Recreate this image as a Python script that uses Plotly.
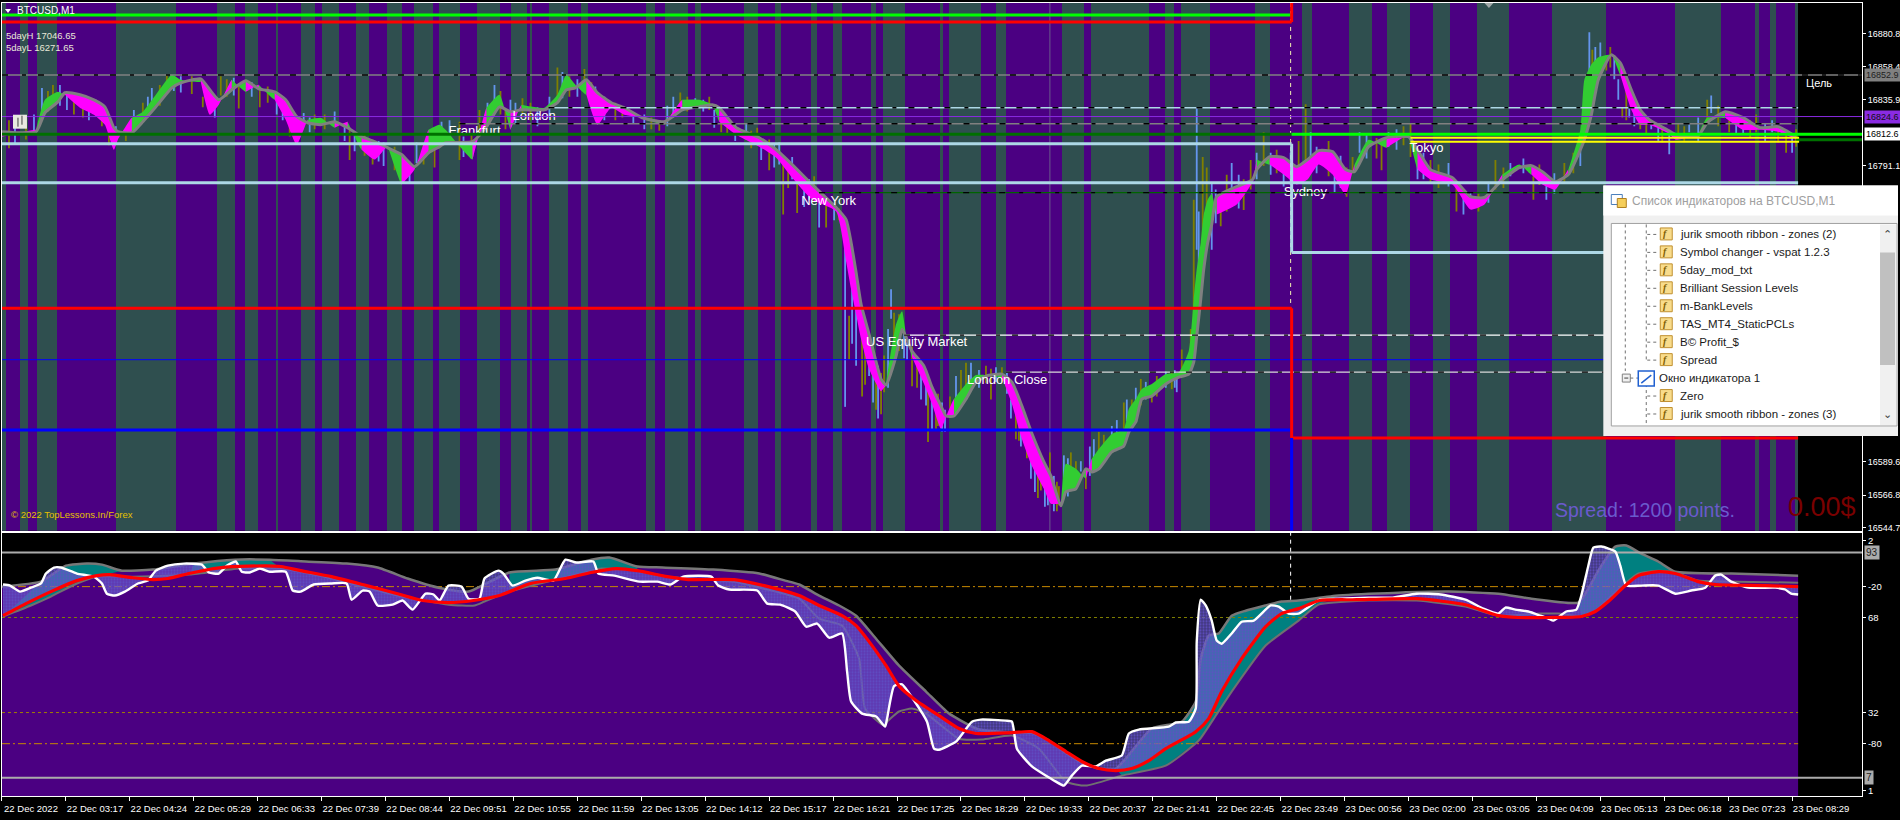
import plotly.graph_objects as go

# ---------- time axis (bar numbers on the M1 chart) ----------
tick_bars = [2, 66, 130, 194, 258, 322, 386, 450, 514, 578, 642, 706, 770, 834, 898, 962, 1026, 1090, 1154, 1218, 1282,
             1346, 1410, 1474, 1538, 1602, 1666, 1730, 1794]
tick_labels = ["22 Dec 2022", "22 Dec 03:17", "22 Dec 04:24", "22 Dec 05:29", "22 Dec 06:33", "22 Dec 07:39",
               "22 Dec 08:44", "22 Dec 09:51", "22 Dec 10:55", "22 Dec 11:59", "22 Dec 13:05", "22 Dec 14:12",
               "22 Dec 15:17", "22 Dec 16:21", "22 Dec 17:25", "22 Dec 18:29", "22 Dec 19:33", "22 Dec 20:37",
               "22 Dec 21:41", "22 Dec 22:45", "22 Dec 23:49", "23 Dec 00:56", "23 Dec 02:00", "23 Dec 03:05",
               "23 Dec 04:09", "23 Dec 05:13", "23 Dec 06:18", "23 Dec 07:23", "23 Dec 08:29"]
first_bar, last_bar, axis_end = 2, 1800, 1864

# ---------- session bands ----------
band_start = [2, 20, 37, 116, 217, 245, 276, 301, 322, 356, 387, 414, 439, 477, 512, 531, 550, 582, 647, 666, 696, 745,
              776, 812, 834, 872, 884, 941, 950, 997, 1063, 1092, 1166, 1182, 1256, 1303, 1350, 1388, 1435, 1479, 1554,
              1677, 1757, 1772, 1797]
band_end = [6, 28, 57, 176, 235, 258, 278, 315, 339, 369, 402, 433, 460, 501, 528, 533, 569, 589, 656, 689, 702, 759,
            782, 818, 843, 877, 906, 944, 982, 1007, 1085, 1150, 1175, 1211, 1271, 1313, 1373, 1411, 1452, 1511, 1608,
            1723, 1761, 1778, 1800]

# ---------- price panel ----------
price_low, price_high = 16542.7, 16901.9
price_ticks = [16880.8, 16858.4, 16835.9, 16791.1, 16589.6, 16566.8, 16544.7]

rib_x = [2, 36, 45, 58, 65, 80, 94, 105, 114, 118, 132, 143, 156, 172, 181, 201, 210, 219, 232, 246, 259, 275, 286, 297,
         308, 321, 335, 348, 362, 375, 388, 402, 415, 429, 440, 446, 473, 487, 500, 511, 522, 545, 558, 567, 576, 587,
         598, 612, 625, 643, 665, 683, 700, 713, 720, 737, 760, 777, 793, 813, 837, 847, 852, 857, 862, 870, 882, 887,
         897, 903, 907, 913, 925, 933, 942, 947, 955, 967, 977, 987, 1003, 1013, 1023, 1032, 1045, 1052, 1062, 1067,
         1077, 1087, 1093, 1100, 1113, 1125, 1130, 1137, 1143, 1153, 1167, 1180, 1190, 1195, 1198, 1202, 1205, 1209,
         1213, 1218, 1238, 1254, 1258, 1271, 1285, 1298, 1309, 1320, 1334, 1347, 1356, 1370, 1388, 1410, 1419, 1432,
         1454, 1472, 1486, 1504, 1521, 1533, 1544, 1557, 1570, 1582, 1586, 1593, 1600, 1613, 1622, 1633, 1642, 1651,
         1669, 1678, 1700, 1709, 1727, 1745, 1762, 1780, 1798]
rib_slow = [16814.3, 16814.3, 16827.2, 16834.6, 16840.8, 16839.4, 16836, 16831.2, 16817, 16814.3, 16813.6, 16821.1,
            16831.2, 16844.1, 16847.5, 16850.3, 16842.8, 16836, 16842.8, 16848.9, 16843.5, 16841.4, 16836, 16824.5,
            16820.4, 16819, 16821.1, 16817, 16810.9, 16807.5, 16803.4, 16798.7, 16790.5, 16800, 16804.1, 16806.8,
            16807.5, 16817.7, 16831.2, 16827.9, 16829.2, 16829.2, 16834, 16842.8, 16844.1, 16849.6, 16840.8, 16834,
            16830.6, 16823.8, 16821.1, 16829.2, 16831.2, 16832.6, 16830.6, 16817, 16810.2, 16802, 16791.9, 16778.3,
            16762.7, 16754.5, 16738.9, 16718.5, 16696.8, 16676.4, 16645.9, 16641.8, 16661.5, 16679.8, 16674.4, 16664.9,
            16654.7, 16640.4, 16627.5, 16620.8, 16620.8, 16632.3, 16643.8, 16647.9, 16649.3, 16643.8, 16627.5, 16610.6,
            16589.5, 16580, 16559.6, 16569.2, 16571.2, 16584.8, 16582.7, 16584.8, 16596.3, 16600.4, 16609.9, 16616.7,
            16632.3, 16634.3, 16642.5, 16647.2, 16649.3, 16657.4, 16675.1, 16700.2, 16720.6, 16738.9, 16751.1, 16770.1,
            16776.9, 16781.7, 16788.5, 16797.3, 16796.6, 16790.5, 16795.3, 16801.4, 16800.7, 16788.5, 16787.1, 16804.1,
            16810.2, 16810.9, 16802, 16788.5, 16783, 16770.1, 16769.5, 16781.7, 16789.8, 16791.2, 16787.1, 16780.3,
            16785.1, 16802, 16808.8, 16825.8, 16849.6, 16866.6, 16861.1, 16842.8, 16829.2, 16822.4, 16815.6, 16812.2,
            16811.6, 16820.4, 16827.9, 16823.8, 16817, 16817.7, 16810.9]
rib_fast = [16810.9, 16815.6, 16836, 16841.4, 16839.4, 16830.6, 16825.8, 16819, 16802, 16808.8, 16823.8, 16827.9,
            16839.4, 16853, 16849.6, 16848.2, 16825.8, 16832.6, 16849.6, 16841.4, 16846.2, 16836, 16822.4, 16805.4,
            16822.4, 16823.8, 16817, 16821.1, 16802, 16795.3, 16804.8, 16778.3, 16788.5, 16815.6, 16819, 16815.6,
            16795.3, 16830.6, 16839.4, 16815.6, 16832.6, 16830.6, 16839.4, 16853, 16846.2, 16839.4, 16819, 16830.6,
            16825.8, 16823.8, 16819, 16836, 16836, 16832.6, 16821.1, 16812.2, 16804.1, 16796.6, 16783, 16768.1, 16760,
            16726, 16707, 16690, 16673, 16652.7, 16637.7, 16641.8, 16683.2, 16692.1, 16676.4, 16660.8, 16642.5, 16628.9,
            16611.9, 16620.1, 16632.3, 16642.5, 16648.6, 16648.6, 16647.2, 16628.9, 16605.1, 16588.2, 16571.2, 16561,
            16561, 16588.2, 16584.8, 16578, 16591.6, 16598.3, 16608.5, 16611.9, 16625.5, 16632.3, 16639.1, 16642.5,
            16649.3, 16650.6, 16665, 16700.2, 16720.6, 16738.9, 16757.9, 16768.1, 16772, 16757.9, 16764.7, 16780.3,
            16795.3, 16791.9, 16785.1, 16778.3, 16781.7, 16791.9, 16785.1, 16771.5, 16791.9, 16808.8, 16803.4, 16812.2,
            16788.5, 16781.7, 16778.3, 16761.3, 16764.7, 16785.1, 16791.9, 16785.1, 16778.3, 16774.9, 16788.5, 16815.6,
            16849.6, 16860, 16865, 16866.6, 16853, 16829.2, 16819, 16819, 16813.6, 16808.8, 16812.2, 16823.8, 16823.8,
            16815.6, 16815.6, 16814.3, 16809.5]

wick_x = [9, 42, 53, 67, 83, 96, 109, 134, 143, 152, 167, 181, 203, 210, 221, 234, 239, 246, 260, 283, 290, 304, 315,
          335, 350, 355, 373, 384, 404, 417, 435, 442, 460, 464, 480, 495, 506, 511, 523, 538, 558, 563, 585, 596, 623,
          634, 660, 674, 681, 696, 710, 715, 728, 747, 758, 762, 770, 780, 784, 793, 798, 805, 815, 820, 827, 835, 843,
          846, 850, 857, 863, 870, 877, 879, 885, 892, 895, 908, 913, 927, 929, 933, 939, 946, 951, 957, 967, 972, 992,
          997, 1003, 1012, 1017, 1022, 1028, 1036, 1042, 1046, 1051, 1055, 1060, 1065, 1072, 1082, 1087, 1095, 1100,
          1113, 1125, 1128, 1142, 1147, 1153, 1167, 1173, 1178, 1183, 1188, 1195, 1198, 1204, 1213, 1222, 1233, 1245,
          1258, 1265, 1285, 1307, 1312, 1325, 1336, 1354, 1361, 1383, 1390, 1412, 1419, 1432, 1450, 1458, 1472, 1497,
          1512, 1535, 1548, 1566, 1582, 1586, 1591, 1594, 1602, 1608, 1620, 1624, 1631, 1642, 1653, 1664, 1671, 1680,
          1691, 1709, 1713, 1731, 1745, 1758, 1774, 1780, 1794, 1798]
wick_high = [16822, 16844, 16846, 16841, 16836, 16836, 16814, 16829, 16834, 16844, 16853, 16852, 16838, 16837, 16852,
             16851, 16845, 16848, 16843, 16838, 16827, 16827, 16826, 16828, 16817, 16814, 16809, 16807, 16797, 16807,
             16804, 16821, 16821, 16811, 16829, 16846, 16829, 16836, 16837, 16831, 16858, 16855, 16857, 16845, 16831,
             16827, 16822, 16838, 16841, 16837, 16838, 16829, 16824, 16820, 16817, 16807, 16809, 16807, 16797, 16797,
             16780, 16782, 16784, 16770, 16765, 16763, 16759, 16752, 16689, 16693, 16678, 16666, 16657, 16655, 16662,
             16707, 16691, 16671, 16668, 16648, 16637, 16632, 16636, 16625, 16634, 16648, 16657, 16657, 16653, 16654,
             16654, 16632, 16625, 16619, 16610, 16594, 16592, 16585, 16596, 16580, 16573, 16594, 16596, 16590, 16585,
             16605, 16610, 16614, 16630, 16632, 16646, 16644, 16637, 16651, 16651, 16647, 16666, 16658, 16768, 16831,
             16797, 16780, 16773, 16793, 16782, 16800, 16814, 16793, 16833, 16814, 16802, 16797, 16797, 16814, 16807,
             16814, 16820, 16795, 16795, 16793, 16780, 16773, 16795, 16793, 16784, 16782, 16793, 16811, 16829, 16882,
             16870, 16875, 16865, 16850, 16831, 16831, 16824, 16821, 16816, 16814, 16820, 16820, 16836, 16839, 16822,
             16820, 16826, 16822, 16818, 16811, 16816]
wick_low = [16803, 16826, 16834, 16829, 16824, 16827, 16805, 16814, 16822, 16831, 16843, 16841, 16831, 16831, 16839,
            16839, 16830, 16843, 16831, 16822, 16811, 16820, 16816, 16819, 16795, 16801, 16792, 16791, 16780, 16793,
            16790, 16807, 16795, 16797, 16811, 16829, 16816, 16822, 16827, 16818, 16834, 16837, 16845, 16831, 16824,
            16820, 16815, 16824, 16829, 16831, 16829, 16817, 16812, 16809, 16807, 16795, 16788, 16792, 16758, 16782,
            16759, 16763, 16768, 16749, 16749, 16754, 16754, 16627, 16659, 16655, 16634, 16648, 16625, 16619, 16637,
            16687, 16673, 16659, 16641, 16628, 16603, 16611, 16614, 16610, 16622, 16628, 16639, 16644, 16632, 16644,
            16644, 16619, 16605, 16600, 16592, 16569, 16570, 16559, 16573, 16556, 16560, 16569, 16583, 16583, 16571,
            16587, 16594, 16596, 16610, 16617, 16628, 16632, 16630, 16640, 16639, 16637, 16648, 16648, 16659, 16734,
            16723, 16734, 16750, 16763, 16761, 16782, 16791, 16777, 16791, 16793, 16791, 16773, 16786, 16800, 16788,
            16804, 16797, 16782, 16780, 16777, 16760, 16763, 16775, 16784, 16768, 16768, 16780, 16791, 16811, 16852,
            16850, 16858, 16856, 16836, 16824, 16824, 16816, 16816, 16807, 16799, 16811, 16814, 16820, 16827, 16814,
            16812, 16814, 16814, 16807, 16800, 16804]

wick2_x = [15, 26, 34, 48, 60, 74, 89, 102, 116, 126, 148, 160, 174, 192, 215, 227, 252, 268, 277, 296, 310, 325, 345,
           365, 379, 395, 410, 424, 450, 472, 488, 501, 516, 531, 550, 570, 578, 592, 605, 616, 645, 652, 668, 688, 704,
           722, 736, 752, 775, 789, 810, 840, 853, 866, 874, 882, 889, 900, 905, 918, 922, 937, 943, 962, 980, 987,
           1008, 1020, 1032, 1039, 1049, 1058, 1069, 1077, 1091, 1105, 1118, 1133, 1137, 1158, 1176, 1192, 1200, 1208,
           1217, 1228, 1240, 1252, 1272, 1278, 1292, 1300, 1318, 1330, 1342, 1348, 1368, 1378, 1398, 1405, 1425, 1440,
           1465, 1480, 1490, 1505, 1525, 1541, 1556, 1575, 1597, 1612, 1616, 1628, 1636, 1648, 1660, 1686, 1700, 1720,
           1738, 1752, 1767, 1788]
wick2_high = [16822, 16820, 16826, 16842, 16846, 16840, 16836, 16832, 16818, 16816, 16838, 16846, 16852, 16852, 16836,
              16850, 16848, 16845, 16840, 16826, 16824, 16826, 16820, 16812, 16808, 16804, 16794, 16806, 16822, 16812,
              16834, 16842, 16834, 16834, 16838, 16852, 16850, 16848, 16838, 16834, 16826, 16824, 16832, 16838, 16836,
              16826, 16820, 16815, 16806, 16792, 16782, 16762, 16710, 16680, 16660, 16650, 16680, 16690, 16680, 16660,
              16655, 16635, 16630, 16652, 16652, 16655, 16650, 16625, 16606, 16592, 16585, 16576, 16592, 16590, 16600,
              16608, 16618, 16632, 16640, 16648, 16652, 16680, 16760, 16790, 16775, 16785, 16785, 16795, 16800, 16802,
              16800, 16808, 16804, 16808, 16798, 16790, 16812, 16810, 16816, 16818, 16800, 16792, 16772, 16772, 16780,
              16790, 16796, 16792, 16786, 16800, 16872, 16872, 16866, 16842, 16836, 16824, 16820, 16818, 16824, 16832,
              16826, 16822, 16820, 16814]
wick2_low = [16806, 16809, 16812, 16828, 16832, 16826, 16822, 16818, 16806, 16808, 16824, 16832, 16842, 16840, 16824,
             16838, 16838, 16834, 16826, 16806, 16814, 16816, 16808, 16798, 16794, 16788, 16780, 16792, 16806, 16796,
             16818, 16826, 16820, 16822, 16824, 16838, 16838, 16830, 16822, 16822, 16816, 16816, 16818, 16828, 16828,
             16814, 16808, 16803, 16790, 16776, 16768, 16754, 16670, 16642, 16630, 16622, 16640, 16665, 16660, 16640,
             16632, 16612, 16610, 16632, 16640, 16643, 16636, 16604, 16578, 16565, 16560, 16556, 16566, 16575, 16580,
             16590, 16600, 16612, 16620, 16634, 16640, 16650, 16700, 16745, 16752, 16760, 16762, 16775, 16785, 16786,
             16778, 16780, 16786, 16784, 16776, 16770, 16796, 16796, 16802, 16805, 16782, 16776, 16758, 16760, 16766,
             16776, 16786, 16778, 16772, 16786, 16846, 16858, 16850, 16822, 16818, 16812, 16808, 16808, 16808, 16818,
             16812, 16810, 16808, 16800]

# session labels, over the ribbons and under the level lines
session_x = [449, 513, 802, 867, 968, 1285, 1411]
session_price = [16814.3, 16824.5, 16766.7, 16670.3, 16644.5, 16772.8, 16802.7]
session_text = ["Frankfurt", "London", "New York", "US Equity Market", "London Close", "Sydney", "Tokyo"]

# level lines: price, first bar, last bar
lvl_lime_top = (16893.7, 2, 1293)
lvl_red_top = (16889.0, 2, 1293)
lvl_red_mid = (16694.1, 2, 1293)
lvl_red_low = (16605.8, 1293, 1800)
lvl_blue_low = (16611.2, 2, 1293)
lvl_blue_thin = (16659.1, 2, 1800)
lvl_box_a = (16806.1, 2, 1293)
lvl_box_b = (16779.6, 2, 1800)
lvl_box_c = (16732.1, 1293, 1800)
lvl_green_old = (16812.6, 2, 1293)
lvl_lime_now = (16812.6, 1293, 1864)
lvl_green_low = (16808.8, 1798, 1864)
lvl_yellow_a = (16810.2, 1412, 1801)
lvl_yellow_b = (16807.5, 1412, 1801)
lvl_purple = (16824.6, 2, 1864)
lvl_gray_dash = (16852.9, 2, 1864)
lvl_blue_dash = (16830.6, 549, 1800)
lvl_gray_dash2 = (16819.7, 460, 1800)
lvl_green_dash = (16772.8, 820, 1800)
lvl_white_dash = (16675.8, 905, 1800)
lvl_pale_dash = (16650.6, 1007, 1800)

# ---------- oscillator panel ----------
osc_low, osc_high = 0.0, 100.6
osc_ticks = [97.6, 80.0, 68.2, 31.9, 20.0, 2.1]
osc_tick_text = ["2", "-20", "68", "32", "-80", "1"]

white_x = [3, 10, 20, 31, 41, 46, 54, 61, 77, 94, 102, 107, 115, 125, 138, 148, 156, 168, 184, 202, 209, 219, 227, 236,
           242, 250, 260, 270, 286, 293, 301, 314, 332, 347, 352, 363, 370, 378, 393, 403, 413, 426, 434, 440, 449, 462,
           469, 480, 485, 499, 504, 513, 526, 538, 554, 566, 577, 594, 599, 615, 640, 658, 671, 684, 712, 719, 730, 758,
           768, 781, 796, 807, 818, 830, 843, 848, 852, 863, 877, 886, 888, 895, 903, 915, 928, 935, 940, 957, 973, 982,
           1007, 1013, 1018, 1033, 1057, 1065, 1073, 1083, 1097, 1107, 1123, 1130, 1140, 1170, 1177, 1190, 1197, 1198,
           1202, 1207, 1213, 1218, 1223, 1233, 1243, 1255, 1272, 1280, 1290, 1300, 1321, 1339, 1370, 1394, 1418, 1442,
           1467, 1485, 1500, 1507, 1517, 1530, 1542, 1550, 1555, 1562, 1568, 1578, 1583, 1590, 1595, 1603, 1617, 1622,
           1628, 1643, 1660, 1677, 1693, 1707, 1717, 1723, 1733, 1750, 1777, 1787, 1793, 1800]
white_v = [80.8, 80.4, 78.1, 79.6, 81.2, 85, 87.3, 87.3, 85, 83.8, 81.2, 77.3, 76.6, 78.1, 81.2, 82.3, 86.1, 88, 88.8,
           88.4, 85.4, 85, 88, 89.6, 85.7, 85.4, 86.9, 85.7, 85.7, 78.5, 78.1, 80.8, 81.2, 81.2, 75, 78.5, 78.1, 72.8,
           73.1, 74.7, 71.2, 77.3, 77, 74.7, 80.4, 80, 75.4, 75.4, 83.1, 86.1, 85, 80.4, 82.3, 83.4, 82.3, 90.3, 89.2,
           89.6, 85, 84.2, 81.9, 81.9, 80.8, 83.8, 83.8, 80.4, 78.9, 78.5, 73.5, 73.1, 70.5, 64.7, 65.9, 60.5, 62.1,
           47.5, 36.1, 31.5, 30.4, 26.5, 29.6, 42, 42.7, 36.5, 28.4, 18.1, 17.7, 20.8, 28.4, 29.2, 28.8, 28.4, 18.1,
           11.3, 5.5, 4, 7.8, 11.6, 11.3, 13.5, 15.5, 23.9, 25.4, 26.5, 28.1, 28.4, 33.4, 59, 75, 72.8, 67, 59.4, 58.2,
           62.1, 66.6, 67, 72.8, 72.4, 69.7, 69.7, 75, 75.4, 75.8, 75.8, 77.3, 77, 75, 71.6, 69.7, 72, 71.2, 70.5, 68.9,
           67.8, 67, 68.9, 70.5, 71.2, 76.6, 88, 94.9, 95.3, 93.4, 88, 80.4, 80.4, 80.4, 77.3, 78.5, 79.6, 84.2, 84.6,
           81.9, 79.6, 79.6, 78.9, 77.3, 77]

red_x = [3, 26, 51, 77, 97, 110, 133, 153, 168, 189, 214, 240, 281, 301, 332, 367, 398, 423, 449, 474, 500, 531, 566,
         592, 617, 638, 668, 689, 735, 765, 800, 820, 843, 857, 870, 887, 900, 917, 940, 960, 977, 1013, 1033, 1050,
         1067, 1083, 1100, 1117, 1133, 1150, 1167, 1197, 1210, 1223, 1243, 1267, 1283, 1300, 1321, 1358, 1418, 1467,
         1485, 1500, 1520, 1550, 1583, 1597, 1610, 1627, 1640, 1660, 1677, 1700, 1717, 1767, 1800]
red_v = [68.9, 73.5, 78.1, 82.3, 84.2, 84.6, 83.4, 82.7, 83.1, 85, 86.9, 87.7, 87.7, 86.1, 83.8, 80.4, 77.3, 74.7, 73.9,
         74.7, 76.6, 81.2, 83.1, 85.4, 86.9, 86.1, 83.8, 82.7, 82.7, 80.4, 76.6, 72.8, 68.9, 65.1, 59, 49.8, 42, 36.5,
         30.7, 25.8, 23.9, 24.2, 24.6, 21.2, 17, 13.2, 10.5, 9.7, 10.5, 13.5, 18.1, 24.6, 29.6, 39.9, 52.5, 64.7, 69.7,
         71.6, 74.7, 75, 75.4, 73.1, 70.8, 68.9, 68.2, 68.2, 68.6, 70.5, 74.3, 80.4, 84.2, 85.7, 85, 81.9, 80.8, 80.4,
         80]

upper_x = [2, 41, 66, 87, 102, 122, 153, 194, 235, 270, 306, 347, 378, 408, 439, 469, 510, 556, 592, 610, 638, 663, 714,
           760, 786, 800, 820, 840, 857, 877, 900, 927, 950, 973, 980, 1013, 1033, 1050, 1067, 1083, 1100, 1117, 1127,
           1153, 1183, 1197, 1202, 1210, 1220, 1233, 1247, 1267, 1283, 1300, 1340, 1400, 1450, 1500, 1533, 1580, 1590,
           1600, 1617, 1628, 1643, 1660, 1677, 1733, 1800]
upper_v = [80, 81.9, 88, 88.8, 88.4, 86.1, 86.5, 88.8, 90.3, 90.3, 89.6, 88.8, 87.3, 83.1, 79.6, 78.1, 85.4, 86.5, 90.3,
           91.1, 87.7, 87.3, 86.5, 85, 82.3, 80.8, 76.6, 72.8, 68.9, 60.1, 49.8, 39.9, 31.5, 26.5, 25.4, 24.2, 24.2,
           21.2, 16.6, 12.8, 10.5, 10.5, 14.3, 25.8, 28.4, 36.1, 52.5, 61.3, 62.1, 68.9, 70.8, 72.8, 74.3, 74.7, 76.6,
           77.7, 78.1, 77.3, 75.4, 73.9, 79.2, 86.1, 95.3, 95.7, 92.6, 89.6, 85.7, 85, 84.2]

lower_x = [3, 31, 51, 77, 97, 133, 190, 240, 281, 332, 398, 449, 475, 485, 510, 561, 582, 602, 638, 668, 735, 765, 800,
           820, 843, 860, 866, 885, 888, 900, 913, 927, 960, 983, 1013, 1040, 1067, 1087, 1123, 1167, 1200, 1217, 1233,
           1267, 1300, 1320, 1370, 1418, 1467, 1500, 1542, 1560, 1583, 1597, 1610, 1627, 1640, 1660, 1677, 1700, 1740,
           1800]
lower_v = [68.6, 72.8, 76.2, 81.2, 83.8, 83.8, 84.6, 86.9, 86.9, 83.1, 76.6, 73.1, 72.8, 74.3, 78.1, 83.1, 85, 86.9,
           86.1, 83.8, 81.9, 79.2, 75.4, 67.8, 65.1, 52.5, 33.4, 26.9, 28.4, 32.3, 33.4, 31.5, 21.9, 21.6, 23.1, 18.1,
           5.5, 4, 7.8, 11.6, 21.2, 30.7, 39.9, 57.5, 67, 73.1, 74.7, 74.7, 72.4, 68.9, 69.7, 69.7, 68.6, 70.8, 75.4,
           81.2, 85, 86.1, 85.4, 82.3, 81.9, 81.5]

teal_start = [3, 190, 490, 1115, 1580]
teal_end = [125, 290, 640, 1340, 1680]

osc_gray_hi, osc_gray_lo = 93.0, 7.0
osc_dash_a, osc_dash_b, osc_dash_c, osc_dash_d = 80.0, 68.2, 31.9, 20.0

# ---------- dialog text ----------
dialog_title = "Список индикаторов на BTCUSD,M1"
dialog_items = ["jurik smooth ribbon - zones (2)", "Symbol changer - vspat 1.2.3", "5day_mod_txt",
                "Brilliant Session Levels", "m-BankLevels", "TAS_MT4_StaticPCLs", "B© Profit_$", "Spread",
                "Окно индикатора 1", "Zero", "jurik smooth ribbon - zones (3)"]

# ---------- colours ----------
PURPLE, SLATE, BLACK = "#4B0082", "#2F4F4F", "#000000"
W, H = 1900, 820
FONT = "Liberation Sans"


def X(px):
    return px / W


def Y(py):
    return 1 - py / H


fig = go.Figure()


def bars(xa, ya, starts, ends, color, base, top):
    fig.add_trace(go.Bar(x=[(s + e) / 2 for s, e in zip(starts, ends)],
                         width=[e - s for s, e in zip(starts, ends)],
                         y=[top - base] * len(starts), base=[base] * len(starts),
                         marker=dict(color=color, line=dict(width=0)),
                         xaxis=xa, yaxis=ya, hoverinfo="skip"))


def level(lvl, color, width, dash="solid"):
    fig.add_trace(go.Scatter(x=[lvl[1], lvl[2]], y=[lvl[0], lvl[0]], mode="lines",
                             line=dict(color=color, width=width, dash=dash), xaxis="x", yaxis="y", hoverinfo="skip"))


def vline(x, y0, y1, color, width, dash="solid", ya="y", xa="x"):
    fig.add_trace(go.Scatter(x=[x, x], y=[y0, y1], mode="lines",
                             line=dict(color=color, width=width, dash=dash), xaxis=xa, yaxis=ya, hoverinfo="skip"))


# ---- price panel marks
bars("x", "y", [first_bar], [last_bar], PURPLE, price_low, price_high)
bars("x", "y", band_start, band_end, SLATE, price_low, price_high)
vline(1051, price_low, price_high, "#6A5A8A", 1)

for xs_, hs_, ls_, first in ((wick_x, wick_high, wick_low, 0), (wick2_x, wick2_high, wick2_low, 1)):
    for k, color in enumerate(["#808000", "#6495ED"]):
        wx, wy = [], []
        for x, hi, lo in list(zip(xs_, hs_, ls_))[(k + first) % 2::2]:
            wx += [x, x, None]
            wy += [lo, hi, None]
        fig.add_trace(go.Scatter(x=wx, y=wy, mode="lines", line=dict(color=color, width=1.8), xaxis="x", yaxis="y",
                                 hoverinfo="skip"))

# ribbon fills: colour follows the sign of fast minus slow
i = 0
n = len(rib_x)
while i < n - 1:
    up = rib_fast[i] >= rib_slow[i]
    j = i
    while j + 1 < n - 1 and (rib_fast[j + 1] >= rib_slow[j + 1]) == up:
        j += 1
    xs = rib_x[i:j + 2]
    fig.add_trace(go.Scatter(x=xs + xs[::-1], y=rib_fast[i:j + 2] + rib_slow[i:j + 2][::-1], mode="lines",
                             fill="toself", fillcolor="#32CD32" if up else "#FF00FF",
                             line=dict(width=0, shape="spline", smoothing=0.5),
                             xaxis="x", yaxis="y", hoverinfo="skip"))
    i = j + 1
fig.add_trace(go.Scatter(x=rib_x, y=rib_slow, mode="lines", line=dict(color="#808080", width=3, shape="spline", smoothing=0.5),
                         xaxis="x", yaxis="y", hoverinfo="skip"))

fig.add_trace(go.Scatter(x=session_x, y=session_price, text=session_text, mode="text", textposition="middle right",
                         textfont=dict(family=FONT, size=13, color="#FFFFFF"), xaxis="x", yaxis="y", hoverinfo="skip",
                         cliponaxis=False))

vline(1292, price_high, lvl_red_mid[0], "#F0F0B0", 1, "4px,4px")
level(lvl_purple, "#8A2BE2", 1)
for lvl, c in [(lvl_gray_dash, "#808080"), (lvl_blue_dash, "#ADD8E6"), (lvl_gray_dash2, "#808080"),
               (lvl_green_dash, "#006400"), (lvl_white_dash, "#FFFFFF"), (lvl_pale_dash, "#D8D8D8")]:
    level(lvl, c, 1.3)
    level(lvl, "#000000", 1.3, "6px,14px,4px,12px")
level(lvl_blue_thin, "#0000FF", 1)
level(lvl_green_old, "#007000", 3)
level(lvl_green_low, "#007000", 3)
level(lvl_lime_now, "#00FF00", 3)
level(lvl_yellow_a, "#FFFF00", 2)
level(lvl_yellow_b, "#FFFF00", 2)
level(lvl_box_a, "#ADD8E6", 3)
level(lvl_box_b, "#ADD8E6", 3)
level(lvl_box_c, "#ADD8E6", 3)
vline(1293, lvl_box_a[0], lvl_box_c[0], "#ADD8E6", 3)
level(lvl_lime_top, "#00FF00", 3)
level(lvl_red_top, "#FF0000", 3)
level(lvl_red_mid, "#FF0000", 3)
level(lvl_red_low, "#FF0000", 3)
level(lvl_blue_low, "#0000FF", 3)
vline(1293, price_high, lvl_red_top[0], "#FF0000", 3)
vline(1293, lvl_red_mid[0], lvl_red_low[0], "#FF0000", 3)
vline(1293, lvl_red_low[0], price_low, "#0000FF", 3)

# ---- oscillator panel marks
fig.add_trace(go.Scatter(x=[first_bar] + upper_x + [last_bar], y=[osc_low] + upper_v + [osc_low], mode="lines",
                         fill="toself", fillcolor=PURPLE, line=dict(width=0), xaxis="x2", yaxis="y2", hoverinfo="skip"))
for s, e in zip(teal_start, teal_end):
    ux = [a for a in upper_x if s <= a <= e]
    uv = [b for a, b in zip(upper_x, upper_v) if s <= a <= e]
    lx = [a for a in lower_x if s <= a <= e]
    lv = [b for a, b in zip(lower_x, lower_v) if s <= a <= e]
    fig.add_trace(go.Scatter(x=ux + lx[::-1], y=uv + lv[::-1], mode="lines", fill="toself", fillcolor="#008080",
                             line=dict(width=0), xaxis="x2", yaxis="y2", hoverinfo="skip"))
for d, dash, col in [(osc_dash_a, "8px,3px,2px,3px", "#C88A00"), (osc_dash_b, "3px,3px", "#808000"),
                     (osc_dash_c, "3px,3px", "#A08000"), (osc_dash_d, "8px,3px,2px,3px", "#C88A00")]:
    fig.add_trace(go.Scatter(x=[first_bar, last_bar], y=[d, d], mode="lines", line=dict(color=col, width=1, dash=dash),
                             xaxis="x2", yaxis="y2", hoverinfo="skip"))
fig.add_trace(go.Scatter(x=lower_x, y=lower_v, mode="lines", line=dict(color="#707070", width=2, shape="spline", smoothing=0.5),
                         xaxis="x2", yaxis="y2", hoverinfo="skip"))
fig.add_trace(go.Scatter(x=upper_x, y=upper_v, mode="lines", line=dict(color="#787878", width=2.5, shape="spline", smoothing=0.5),
                         xaxis="x2", yaxis="y2", hoverinfo="skip"))
fig.add_trace(go.Scatter(x=white_x + red_x[::-1], y=white_v + red_v[::-1], mode="lines", fill="toself",
                         fillcolor="rgba(106,90,205,0.8)", line=dict(width=0),
                         fillpattern=dict(shape=".", size=3, solidity=0.4, fgcolor="#5F4FC4",
                                          bgcolor="rgba(106,90,205,0.62)", fillmode="replace"),
                         xaxis="x2", yaxis="y2", hoverinfo="skip"))
for d in (osc_gray_hi, osc_gray_lo):
    fig.add_trace(go.Scatter(x=[first_bar, axis_end], y=[d, d], mode="lines", line=dict(color="#ABABAB", width=2),
                             xaxis="x2", yaxis="y2", hoverinfo="skip"))
fig.add_trace(go.Scatter(x=white_x, y=white_v, mode="lines", line=dict(color="#FFFFFF", width=2.4, shape="spline", smoothing=0.5),
                         xaxis="x2", yaxis="y2", hoverinfo="skip"))
fig.add_trace(go.Scatter(x=red_x, y=red_v, mode="lines", line=dict(color="#FF0000", width=3.2, shape="spline", smoothing=0.6),
                         xaxis="x2", yaxis="y2", hoverinfo="skip"))
vline(1292, 75.0, osc_high, "#FFFFFF", 1, "4px,4px", "y2", "x2")

# ---- annotations
ann = []


def text(px, py, s, size=9.5, color="#FFFFFF", anchor="left", family=FONT, **kw):
    ann.append(dict(x=X(px), y=Y(py), xref="paper", yref="paper", text=s, showarrow=False, xanchor=anchor,
                    yanchor="middle", font=dict(family=family, size=size, color=color), borderpad=0, borderwidth=0, **kw))


text(17, 11, "BTCUSD,M1", 10)
text(6, 36, "5dayH 17046.65", 9.5, "#E8E8D8")
text(6, 48, "5dayL 16271.65", 9.5, "#E8E8D8")
text(11, 516, "© 2022 TopLessons.In/Forex", 9.5, "#E6C000")
text(1808, 83, "Цель", 11)
text(1557, 511, "Spread: 1200 points.", 19.5, "#6A5ACD")
text(1790, 508, "0.00$", 27, "#7A0000")
for py, s, bg, fg in [(75, "16852.9", "#808080", "#202020"), (117, "16824.6", "#8A2BE2", "#101010"),
                      (134, "16812.6", "#FFFFFF", "#000000")]:
    ann.append(dict(x=X(1866), y=Y(py), xref="paper", yref="paper", text=s, showarrow=False, xanchor="left",
                    yanchor="middle", bgcolor=bg, borderpad=1, font=dict(family=FONT, size=9, color=fg)))
for py, s in [(554, "93"), (779, "7")]:
    ann.append(dict(x=X(1866), y=Y(py), xref="paper", yref="paper", text=s, showarrow=False, xanchor="left",
                    yanchor="middle", bgcolor="#ABABAB", borderpad=1, font=dict(family=FONT, size=10, color="#202020")))

# dialog
shapes = []


def rect(x0, y0, x1, y1, fill, line=None, lw=1):
    shapes.append(dict(type="rect", xref="paper", yref="paper", x0=X(x0), x1=X(x1), y0=Y(y1), y1=Y(y0), fillcolor=fill,
                       line=dict(color=line or fill, width=lw if line else 0), layer="above"))


def seg(x0, y0, x1, y1, color, dash="solid", lw=1):
    shapes.append(dict(type="line", xref="paper", yref="paper", x0=X(x0), x1=X(x1), y0=Y(y0), y1=Y(y1),
                       line=dict(color=color, width=lw, dash=dash), layer="above"))


# top-left triangle, tool box and tick mark
shapes.append(dict(type="path", xref="paper", yref="paper",
                   path=f"M {X(5)} {Y(9)} L {X(11)} {Y(9)} L {X(8)} {Y(13)} Z", fillcolor="#FFFFFF", line=dict(width=0),
                   layer="above"))
shapes.append(dict(type="path", xref="paper", yref="paper",
                   path=f"M {X(1486)} {Y(3)} L {X(1495)} {Y(3)} L {X(1490.5)} {Y(8)} Z", fillcolor="#A0A8A8",
                   line=dict(width=0), layer="above"))
rect(13, 115, 27, 129, "#E8E8E0")
seg(18, 118, 18, 127, "#404040")
seg(22, 116, 22, 125, "#404040")

rect(1605, 186, 1900, 437, "#F0F0F0")
rect(1605, 186, 1900, 216, "#FFFFFF")
rect(1613, 224, 1899, 427, "#FFFFFF", "#A0A0A0")
rect(1882, 225, 1898, 426, "#F0F0F0")
rect(1882, 253, 1897, 366, "#C0C0C0")
rect(1613, 195, 1624, 205, "#FFFFFF", "#4A7EBB")
rect(1619, 199, 1628, 208, "#F5CE5A", "#B08020")
seg(1627, 225, 1627, 372, "#707070", "dot")
seg(1648, 225, 1648, 361, "#707070", "dot")
seg(1648, 385, 1648, 426, "#707070", "dot")
rows = [235, 253, 271, 289, 307, 325, 343, 361, 379, 397, 415]
for py, s in zip(rows, dialog_items):
    if s.startswith("Окно"):
        rect(1624, 375, 1632, 383, "#F0F0F0", "#808080")
        seg(1626, 379, 1630, 379, "#404040")
        seg(1632, 379, 1640, 379, "#707070", "dot")
        rect(1640, 372, 1656, 387, "#FFFFFF", "#2060D0", 1.5)
        seg(1643, 384, 1653, 376, "#2060D0", lw=1.5)
        text(1661, py, s, 11.5, "#1A1A1A")
    else:
        seg(1649, py, 1661, py, "#707070", "dot")
        rect(1662, py - 6.5, 1674, py + 5.5, "#F8DC8C", "#C09030")
        text(1664.5, py - 0.5, "<i><b>f</b></i>", 10, "#806000", family="Liberation Serif")
        text(1682, py, s, 11.5, "#1A1A1A")
text(1634, 201, dialog_title, 12, "#A0A0A0")
text(1889, 235, "⌃", 11, "#404040", "center")
text(1889, 415, "⌄", 11, "#404040", "center")

fig.update_layout(
    width=W, height=H, margin=dict(l=0, r=0, t=0, b=0, pad=0), paper_bgcolor=BLACK, plot_bgcolor=BLACK,
    showlegend=False, barmode="overlay", bargap=0, autosize=False, annotations=ann, shapes=shapes, hovermode=False,
    font=dict(family=FONT, size=9.5, color="#FFFFFF"),
    xaxis=dict(domain=[X(2), X(1864)], range=[2, axis_end], anchor="y", showgrid=False, zeroline=False, showline=True,
               mirror=True, linecolor="#FFFFFF", linewidth=1, showticklabels=False, ticks=""),
    yaxis=dict(domain=[Y(532), Y(3)], range=[price_low, price_high], anchor="x", side="right", showgrid=False,
               zeroline=False, showline=True, mirror=True, linecolor="#FFFFFF", linewidth=1, tickmode="array",
               tickvals=price_ticks, ticktext=[f"{v:.1f}" for v in price_ticks], ticks="outside", ticklen=3,
               tickcolor="#FFFFFF", tickfont=dict(family=FONT, size=9, color="#FFFFFF"), ticklabelposition="outside"),
    xaxis2=dict(domain=[X(2), X(1864)], range=[2, axis_end], anchor="y2", showgrid=False, zeroline=False, showline=True,
                mirror=True, linecolor="#FFFFFF", linewidth=1, tickmode="array", tickvals=tick_bars,
                ticktext=tick_labels, ticks="outside", ticklen=4, tickcolor="#FFFFFF", ticklabelshift=29, tickangle=0,
                tickfont=dict(family=FONT, size=9.5, color="#FFFFFF"), ticklabeloverflow="allow"),
    yaxis2=dict(domain=[Y(798), Y(534)], range=[osc_low, osc_high], anchor="x2", side="right", showgrid=False,
                zeroline=False, showline=True, mirror=True, linecolor="#FFFFFF", linewidth=1, tickmode="array",
                tickvals=osc_ticks, ticktext=osc_tick_text, ticks="outside", ticklen=3, tickcolor="#FFFFFF",
                tickfont=dict(family=FONT, size=9.5, color="#FFFFFF")),
)

fig.write_html("out.html", config=dict(displayModeBar=False),
               post_script="document.documentElement.style.overflow='hidden';document.body.style.margin='0';"
                           "document.body.style.background='#000';")
